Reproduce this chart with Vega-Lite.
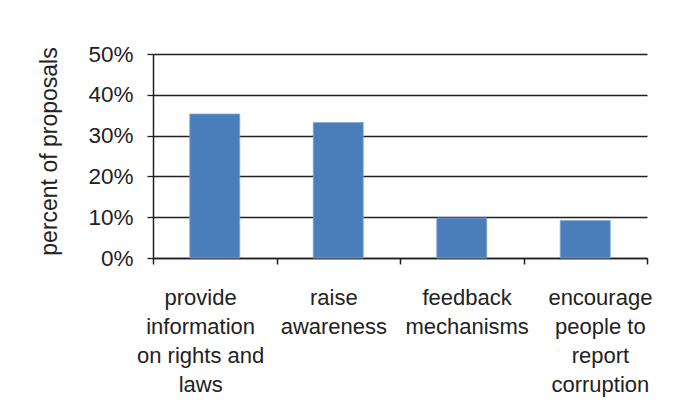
{
  "$schema": "https://vega.github.io/schema/vega-lite/v6.json",
  "autosize": {"type": "none"},
  "width": 494,
  "height": 204,
  "padding": {"left": 153, "top": 54, "right": 53, "bottom": 154},
  "background": "white",
  "config": {
    "view": {"stroke": null},
    "font": "Liberation Sans",
    "axis": {"labelFont": "Liberation Sans", "titleFont": "Liberation Sans", "labelColor": "#222", "titleColor": "#222"}
  },
  "data": {
    "values": [
      {"category": "provide information on rights and laws", "share": 0.353},
      {"category": "raise awareness", "share": 0.332},
      {"category": "feedback mechanisms", "share": 0.098},
      {"category": "encourage people to report corruption", "share": 0.092}
    ]
  },
  "resolve": {"axis": {"x": "independent"}, "scale": {"x": "independent"}},
  "layer": [
    {
      "mark": {"type": "bar", "color": "#4A7EBB", "stroke": "#86A8D4", "strokeWidth": 0.8},
      "encoding": {
        "x": {
          "field": "category",
          "type": "nominal",
          "sort": null,
          "scale": {"paddingInner": 0.595, "paddingOuter": 0.2975},
          "axis": null
        },
        "y": {
          "field": "share",
          "type": "quantitative",
          "scale": {"domain": [0, 0.5], "nice": false},
          "axis": {
            "title": "percent of proposals",
            "titleFontSize": 23,
            "titleFontWeight": "normal",
            "titlePadding": 26,
            "titleY": 97,
            "values": [0, 0.1, 0.2, 0.3, 0.4, 0.5],
            "format": ".0%",
            "labelFontSize": 22.5,
            "labelPadding": 14,
            "tickSize": 6,
            "tickColor": "#231F20",
            "tickWidth": 1.3,
            "domainColor": "#231F20",
            "domainWidth": 1.5,
            "grid": true,
            "gridColor": "#231F20",
            "gridWidth": 1.3,
            "gridOpacity": 1
          }
        }
      }
    },
    {
      "mark": {"type": "bar", "opacity": 0},
      "encoding": {
        "x": {
          "field": "category",
          "type": "nominal",
          "sort": null,
          "scale": {"paddingInner": 0, "paddingOuter": 0},
          "axis": {
            "orient": "bottom",
            "title": null,
            "labels": false,
            "domain": true,
            "domainColor": "#231F20",
            "domainWidth": 1.5,
            "grid": false,
            "tickBand": "extent",
            "tickSize": 6,
            "tickColor": "#231F20",
            "tickWidth": 1.5
          }
        },
        "y": {"field": "share", "type": "quantitative"}
      }
    },
    {
      "mark": {"type": "bar", "opacity": 0},
      "encoding": {
        "x": {
          "field": "category",
          "type": "nominal",
          "sort": null,
          "scale": {"paddingInner": 0, "paddingOuter": 0, "range": [-19, 514]},
          "axis": {
            "orient": "bottom",
            "title": null,
            "labelAngle": 0,
            "labelFontSize": 22,
            "labelLineHeight": 29,
            "labelBaseline": "top",
            "labelLimit": 0,
            "labelExpr": "datum.value == 'provide information on rights and laws' ? ['provide', 'information', 'on rights and', 'laws'] : datum.value == 'raise awareness' ? ['raise', 'awareness'] : datum.value == 'feedback mechanisms' ? ['feedback', 'mechanisms'] : ['encourage', 'people to', 'report', 'corruption']",
            "ticks": false,
            "domain": false,
            "labelPadding": 29,
            "grid": false
          }
        },
        "y": {"field": "share", "type": "quantitative"}
      }
    }
  ]
}
